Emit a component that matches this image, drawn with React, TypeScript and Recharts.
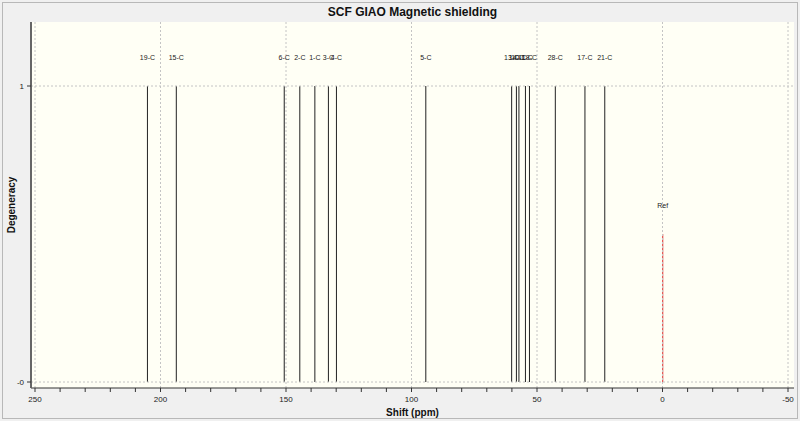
import React from "react";
import {
  ComposedChart,
  XAxis,
  YAxis,
  Bar,
  Cell,
  LabelList,
  ReferenceLine,
  CartesianGrid,
} from "recharts";

// Peak positions (ppm), degeneracy, and labels
const shifts = [205.3, 193.8, 150.8, 144.6, 138.6, 133.2, 130.0, 94.4, 60.2, 58.3, 57.3, 54.7, 53.1, 42.8, 31.0, 23.1, 0];
const degeneracy = [1, 1, 1, 1, 1, 1, 1, 1, 1, 1, 1, 1, 1, 1, 1, 1, 0.5];
const peakLabels = ["19-C", "15-C", "6-C", "2-C", "1-C", "3-C", "4-C", "5-C", "13-C", "14-C", "10-C", "11-C", "18-C", "28-C", "17-C", "21-C", "Ref"];

const xTicks = [250, 240, 230, 220, 210, 200, 190, 180, 170, 160, 150, 140, 130, 120, 110, 100, 90, 80, 70, 60, 50, 40, 30, 20, 10, 0, -10, -20, -30, -40, -50];
const xTickLabels = [250, 200, 150, 100, 50, 0, -50];
const yTicks = [0, 1];
const gridX = [250, 200, 150, 100, 50, 0, -50];
const gridY = [0, 1];

const data = shifts.map((s, i) => ({ shift: s, deg: degeneracy[i], label: peakLabels[i] }));

const FONT = "'Liberation Sans', Arial, sans-serif";

const XTick = (props: any) => {
  const { x, y, payload } = props;
  if (!xTickLabels.includes(payload.value)) return null;
  return (
    <text x={x} y={y} dy="0.71em" textAnchor="middle" fontSize={8} fontFamily={FONT} fill="#222">
      {payload.value}
    </text>
  );
};

const YLabel = (props: any) => {
  const vb = props.viewBox || { x: 0, y: 0, width: 31, height: 366 };
  const cx = vb.x + 11;
  const cy = vb.y + vb.height / 2;
  return (
    <text
      x={cx}
      y={cy}
      transform={`rotate(-90, ${cx}, ${cy})`}
      textAnchor="middle"
      dominantBaseline="central"
      fontSize={10}
      fontWeight="bold"
      fontFamily={FONT}
      fill="#111"
    >
      Degeneracy
    </text>
  );
};

export default function App() {
  return (
    <div
      style={{
        position: "absolute",
        left: 0,
        top: 0,
        width: 800,
        height: 421,
        background: "#F0F0F0",
        overflow: "hidden",
      }}
    >
      <div
        style={{
          position: "absolute",
          left: 2,
          top: 2,
          right: 2,
          bottom: 2,
          border: "1px solid #B8B8B8",
        }}
      />
      <div
        style={{
          position: "absolute",
          left: 31,
          width: 763,
          top: 5,
          textAlign: "center",
          fontFamily: FONT,
          fontWeight: "bold",
          fontSize: 12,
          color: "#111",
        }}
      >
        SCF GIAO Magnetic shielding
      </div>
      <div style={{ position: "absolute", left: 0, top: 0 }}>
        <ComposedChart
          width={800}
          height={421}
          data={data}
          margin={{ top: 22, right: 6, bottom: 0, left: 0 }}
        >
          <CartesianGrid horizontal={false} vertical={false} fill="#FFFFF5" />
          <XAxis
            type="number"
            dataKey="shift"
            domain={[-50, 250]}
            reversed
            ticks={xTicks}
            interval={0}
            allowDataOverflow
            padding={{ left: 4, right: 6 }}
            height={33}
            tickSize={4}
            tickMargin={4}
            stroke="#333"
            tick={<XTick />}
            label={{
              value: "Shift (ppm)",
              position: "insideBottom",
              offset: 5,
              fontSize: 10,
              fontWeight: "bold",
              fontFamily: FONT,
              fill: "#111",
            }}
          />
          <YAxis
            type="number"
            domain={[0, 1]}
            ticks={yTicks}
            interval={0}
            padding={{ top: 64, bottom: 6 }}
            width={31}
            tickSize={4}
            tickMargin={3}
            tickFormatter={(v: number) => (v === 0 ? "-0" : String(v))}
            tick={{ fontSize: 8, fontFamily: FONT, fill: "#222" }}
            axisLine={{ stroke: "#666", strokeWidth: 2 }}
            tickLine={{ stroke: "#333" }}
            label={<YLabel />}
          />
          {gridX.map((v) => (
            <ReferenceLine key={`gx${v}`} x={v} stroke="#C4C4C4" strokeDasharray="2 2" />
          ))}
          {gridY.map((v) => (
            <ReferenceLine key={`gy${v}`} y={v} stroke="#C4C4C4" strokeDasharray="2 2" />
          ))}
          <Bar dataKey="deg" barSize={1} isAnimationActive={false}>
            {data.map((d, i) => (
              <Cell key={i} fill={d.label === "Ref" ? "#E02424" : "#222"} />
            ))}
            <LabelList
              dataKey="label"
              position="top"
              offset={26}
              fontSize={7}
              fontFamily={FONT}
              fill="#222"
            />
          </Bar>
        </ComposedChart>
      </div>
    </div>
  );
}
